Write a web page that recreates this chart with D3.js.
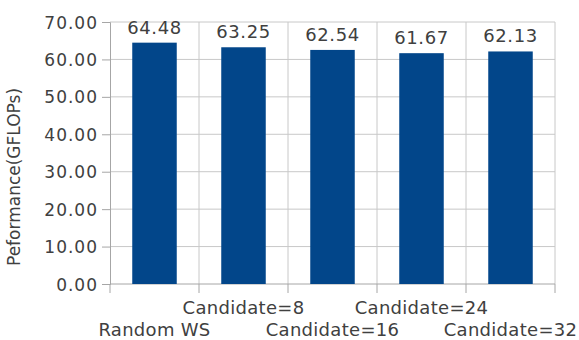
<!DOCTYPE html>
<html>
<head>
<meta charset="utf-8">
<script src="https://cdn.jsdelivr.net/npm/d3@7"></script>
<style>
  body { margin: 0; background: #fff; }
  svg text { font-family: "DejaVu Sans", sans-serif; fill: #404040; }
</style>
</head>
<body>
<div id="chart"></div>
<script>
"use strict";

// chart data
const categories = ["Random WS", "Candidate=8", "Candidate=16", "Candidate=24", "Candidate=32"];
const values = [64.48, 63.25, 62.54, 61.67, 62.13];
const yTicks = [0, 10, 20, 30, 40, 50, 60, 70];
const yTitle = "Peformance(GFLOPs)";

const width = 579, height = 340;
const margins = {top: 22, right: 24, bottom: 56, left: 110};
const plotW = width - margins.left - margins.right;
const plotH = height - margins.top - margins.bottom;

const svg = d3.select("#chart").append("svg")
  .attr("width", width)
  .attr("height", height);

const g = svg.append("g")
  .attr("transform", `translate(${margins.left},${margins.top})`);

const xScale = d3.scaleBand().domain(categories).range([0, plotW]).paddingInner(0.5).paddingOuter(0.25);
const yScale = d3.scaleLinear().domain([0, 70]).range([plotH, 0]);

// horizontal gridlines
g.selectAll(".ygrid").data(yTicks.filter(t => t > 0))
  .enter().append("line")
  .attr("x1", 0).attr("x2", plotW)
  .attr("y1", d => yScale(d)).attr("y2", d => yScale(d))
  .attr("stroke", "#c8c8c8").attr("stroke-width", 1);

// vertical gridlines at category boundaries
const bounds = d3.range(categories.length + 1).map(i => i * plotW / categories.length);
g.selectAll(".xgrid").data(bounds.slice(1))
  .enter().append("line")
  .attr("x1", d => d).attr("x2", d => d)
  .attr("y1", 0).attr("y2", plotH)
  .attr("stroke", "#c8c8c8").attr("stroke-width", 1);

// y axis
const yAxis = d3.axisLeft(yScale).tickValues(yTicks).tickFormat(d3.format(".2f")).tickSize(8).tickPadding(4);
const ya = g.append("g").call(yAxis);
ya.select(".domain").attr("stroke", "#a6a6a6");
ya.selectAll(".tick line").attr("stroke", "#a6a6a6");
ya.selectAll(".tick text")
  .style("font-family", "DejaVu Sans")
  .style("font-size", "17px")
  .style("letter-spacing", "1px")
  .attr("fill", "#404040").attr("dy", "0.36em");

// x axis line and ticks at boundaries
g.append("line")
  .attr("x1", 0).attr("x2", plotW)
  .attr("y1", plotH).attr("y2", plotH)
  .attr("stroke", "#a6a6a6");
g.selectAll(".xtick").data(bounds)
  .enter().append("line")
  .attr("x1", d => d).attr("x2", d => d)
  .attr("y1", plotH).attr("y2", plotH + 9)
  .attr("stroke", "#a6a6a6");

// staggered category labels
g.selectAll(".xlabel").data(categories)
  .enter().append("text")
  .attr("x", d => xScale(d) + xScale.bandwidth() / 2)
  .attr("y", (d, i) => plotH + (i % 2 === 0 ? 52 : 30))
  .attr("text-anchor", "middle")
  .style("font-size", "18px")
  .style("letter-spacing", "0.3px")
  .text(d => d);

// bars
g.selectAll(".bar").data(values)
  .enter().append("rect")
  .attr("x", (d, i) => xScale(categories[i]))
  .attr("y", d => yScale(d))
  .attr("width", xScale.bandwidth())
  .attr("height", d => plotH - yScale(d))
  .attr("fill", "#02468a");

// value labels
g.selectAll(".vlabel").data(values)
  .enter().append("text")
  .attr("x", (d, i) => xScale(categories[i]) + xScale.bandwidth() / 2)
  .attr("y", d => yScale(d) - 9)
  .attr("text-anchor", "middle")
  .style("font-size", "18px")
  .style("letter-spacing", "0.6px")
  .text(d => d.toFixed(2));

// y axis title
svg.append("text")
  .attr("transform", "translate(20,177) rotate(-90)")
  .attr("text-anchor", "middle")
  .style("font-size", "17px")
  .text(yTitle);
</script>
</body>
</html>
